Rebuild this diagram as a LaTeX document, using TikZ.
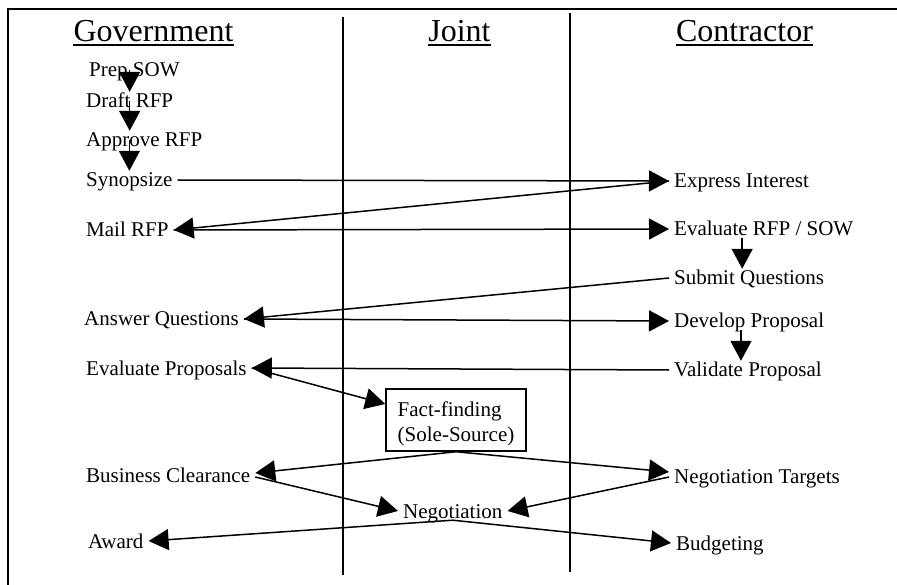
\documentclass[tikz,border=0pt]{standalone}
\usepackage{fontspec}
\setmainfont{Liberation Serif}
\usetikzlibrary{arrows.meta}
\begin{document}
\begin{tikzpicture}[x=1pt,y=-1pt,
  lbl/.style={inner xsep=5pt, inner ysep=0pt, text height=16pt, text depth=2pt, anchor=base west, font=\fontsize{21}{25}\selectfont},
  ttl/.style={inner sep=0pt, anchor=base, font=\fontsize{32}{38}\selectfont},
  arr/.style={line width=1.5pt, -{Triangle[length=20pt,width=21pt]}},
  rulestyle/.style={line width=1.8pt},
  uline/.style={line width=1.4pt},
  boxstyle/.style={draw, line width=1.5pt, minimum width=140pt, minimum height=62pt, inner xsep=0pt, align=left, font=\fontsize{21}{25}\selectfont}]
\useasboundingbox (0,0) rectangle (897,585);
% frame and lanes
\draw[rulestyle] (8,585) -- (8,9) -- (897,9);
\draw[rulestyle] (343,17) -- (343,575);
\draw[rulestyle] (570,13) -- (570,572);
% titles
\node[ttl] (tgov) at (153.5,42) {Government};
\node[ttl] (tjoint) at (459.5,42) {Joint};
\node[ttl] (tcon) at (744.5,42) {Contractor};
\draw[uline] ([yshift=-3pt]tgov.base west) -- ([yshift=-3pt]tgov.base east);
\draw[uline] ([yshift=-3pt]tjoint.base west) -- ([yshift=-3pt]tjoint.base east);
\draw[uline] ([yshift=-3pt]tcon.base west) -- ([yshift=-3pt]tcon.base east);
% government
\node[lbl] (prep) at (84,77) {Prep SOW};
\node[lbl] (draft) at (81,108) {Draft RFP};
\node[lbl] (approve) at (81,147) {Approve RFP};
\node[lbl] (synop) at (81,187) {Synopsize};
\node[lbl] (mail) at (81,237) {Mail RFP};
\node[lbl] (answer) at (79,326) {Answer Questions};
\node[lbl] (evalp) at (81,375) {Evaluate Proposals};
\node[lbl] (busc) at (81,482) {Business Clearance};
\node[lbl] (award) at (83,548) {Award};
% contractor
\node[lbl] (express) at (669,188) {Express Interest};
\node[lbl] (evalrfp) at (669,236) {Evaluate RFP / SOW};
\node[lbl] (submit) at (669,285) {Submit Questions};
\node[lbl] (develop) at (669,328) {Develop Proposal};
\node[lbl] (validate) at (669,377) {Validate Proposal};
\node[lbl] (negt) at (669,483) {Negotiation Targets};
\node[lbl] (budget) at (671,550) {Budgeting};
% joint
\node[boxstyle] (fact) at (456,420) {\rule{0pt}{23pt}Fact-finding\\(Sole-Source)};
\node[lbl] (nego) at (398,518) {Negotiation};
% vertical arrows
\draw[arr] (draft.center |- prep.center) -- (draft.north);
\draw[arr] (draft.center) -- (draft.center |- approve.north);
\draw[arr] (synop.north |- approve.center) -- (synop.north);
\draw[arr] ([xshift=-7pt]submit.north |- evalrfp.south) -- ([xshift=-7pt]submit.north);
\draw[arr] ([xshift=-7pt]validate.north |- develop.south) -- ([xshift=-7pt]validate.north);
% horizontal / slanted arrows
\draw[arr] (synop.east) -- (express.west);
\draw[arr] (express.west) -- (mail.east);
\draw[arr] (mail.east) -- (evalrfp.west);
\draw[arr] (submit.west) -- (answer.east);
\draw[arr] (answer.east) -- (develop.west);
\draw[arr] (validate.west) -- (evalp.east);
\draw[arr] (evalp.east) -- ([yshift=16pt]fact.west);
\draw[arr] (fact.south) -- ([yshift=2pt]busc.east);
\draw[arr] (fact.south) -- ([yshift=4pt]negt.west);
\draw[arr] ([yshift=-2pt]busc.east) -- (nego.west);
\draw[arr] ([yshift=-1pt]negt.west) -- (nego.east);
\draw[arr] (nego.south) -- (award.east);
\draw[arr] (nego.south) -- (budget.west);
\end{tikzpicture}
\end{document}
